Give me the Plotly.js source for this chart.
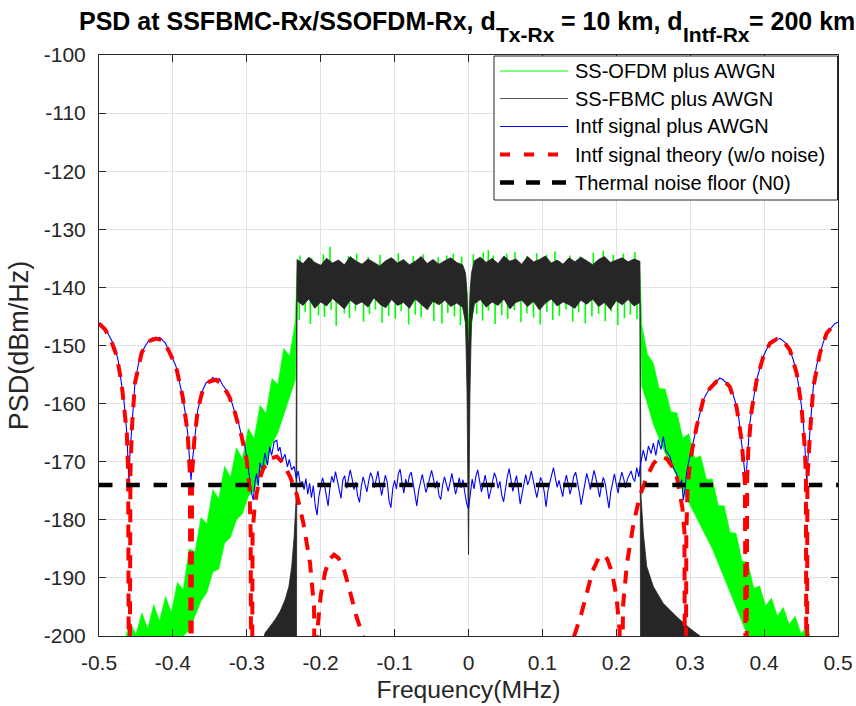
<!DOCTYPE html>
<html>
<head>
<meta charset="utf-8">
<script src="https://cdn.plot.ly/plotly-3.0.1.min.js"></script>
<style>html,body{margin:0;padding:0;background:#fff;}#chart{width:856px;height:706px;}</style>
</head>
<body>
<div id="chart"></div>
<script>
// ---------------- data ----------------
const xTickVals = [-0.5, -0.4, -0.3, -0.2, -0.1, 0, 0.1, 0.2, 0.3, 0.4, 0.5];
const xTickLabels = ['-0.5', '-0.4', '-0.3', '-0.2', '-0.1', '0', '0.1', '0.2', '0.3', '0.4', '0.5'];
const yTickVals = [-200, -190, -180, -170, -160, -150, -140, -130, -120, -110, -100];
const yTickLabels = ['-200', '-190', '-180', '-170', '-160', '-150', '-140', '-130', '-120', '-110', '-100'];

const seriesNames = ['SS-OFDM plus AWGN', 'SS-FBMC plus AWGN', 'Intf signal plus AWGN',
                     'Intf signal theory (w/o noise)', 'Thermal noise floor (N0)'];
// title pieces (subscripted pieces flagged)
const titlePieces = [
  { text: 'PSD at SSFBMC-Rx/SSOFDM-Rx, d', sub: false },
  { text: 'Tx-Rx', sub: true },
  { text: ' = 10 km, d', sub: false },
  { text: 'Intf-Rx', sub: true },
  { text: '= 200 km', sub: false }
];

// in-band frequency grid (MHz) shared by SS-OFDM and SS-FBMC envelopes
const inbandFreq = [-0.232, -0.224, -0.216, -0.208, -0.2, -0.192, -0.184, -0.176, -0.168, -0.16,
  -0.152, -0.144, -0.136, -0.128, -0.12, -0.112, -0.104, -0.096, -0.088, -0.08, -0.072, -0.064,
  -0.056, -0.048, -0.04, -0.032, -0.024, -0.016, -0.008,
  -0.004, -0.002, 0, 0.002, 0.004,
  0.008, 0.016, 0.024, 0.032, 0.04, 0.048, 0.056, 0.064, 0.072, 0.08, 0.088, 0.096, 0.104, 0.112,
  0.12, 0.128, 0.136, 0.144, 0.152, 0.16, 0.168, 0.176, 0.184, 0.192, 0.2, 0.208, 0.216, 0.224, 0.232];

// SS-FBMC (dense noisy band): upper / lower envelope in band
const fbmcUpperIn = [-135.2, -135.9, -134.8, -135.7, -136.2, -135.0, -135.8, -135.3, -136.1, -134.7,
  -135.5, -136.0, -135.1, -135.7, -136.3, -135.4, -134.9, -135.8, -135.2, -136.1, -135.5, -134.7,
  -135.9, -135.2, -136.0, -135.4, -134.9, -135.7, -136.1,
  -137.5, -141, -152, -141, -137.5,
  -135.4, -134.8, -135.7, -135.0, -135.9, -134.6, -135.5, -135.1, -136.0, -134.7, -135.6, -135.2,
  -134.6, -135.8, -135.3, -136.0, -134.9, -135.6, -134.8, -135.4, -136.1, -135.2, -134.7, -135.7,
  -135.3, -134.9, -135.6, -135.1, -135.5];
const fbmcLowerIn = [-142.3, -143.1, -142.0, -143.6, -142.5, -143.2, -141.9, -142.8, -143.7, -142.2,
  -143.0, -142.5, -143.4, -141.8, -142.9, -143.5, -142.1, -143.1, -142.6, -143.6, -142.0, -142.9,
  -143.8, -142.4, -143.0, -142.2, -143.3, -142.7, -143.4,
  -146, -158, -186, -158, -146,
  -142.8, -142.1, -143.4, -142.5, -143.1, -142.0, -143.7, -142.6, -142.2, -143.3, -142.4, -143.9,
  -142.7, -142.0, -143.2, -142.5, -143.0, -143.6, -142.2, -142.9, -142.0, -143.3, -142.6, -143.8,
  -142.3, -143.0, -142.1, -143.2, -142.6];
// SS-FBMC out-of-band skirts
const fbmcSkirtFreqL = [-0.278, -0.2754, -0.27, -0.2618, -0.255, -0.2483, -0.243, -0.2392, -0.236, -0.2335, -0.2328];
const fbmcSkirtUpperL = [-201, -199.5, -198.6, -197.2, -195.8, -193.8, -191.5, -188, -183, -177, -150];
const fbmcSkirtLowerL = [-205, -205, -205, -205, -205, -205, -205, -205, -205, -205, -205];
const fbmcSkirtFreqR = [0.2328, 0.2335, 0.2366, 0.2411, 0.2501, 0.2636, 0.2817, 0.2997, 0.3133, 0.317];
const fbmcSkirtUpperR = [-150, -176, -182.3, -188, -191.5, -194.4, -196.7, -198.7, -200, -201];
const fbmcSkirtLowerR = [-205, -205, -205, -205, -205, -205, -205, -205, -205, -205];

// SS-OFDM in band: core (mostly hidden behind SS-FBMC) incl. the centre notch
const ofdmUpperIn = [-137, -137, -137, -137, -137, -137, -137, -137, -137, -137,
  -137, -137, -137, -137, -137, -137, -137, -137, -137, -137, -137, -137,
  -137, -137, -137, -137, -137, -137, -137,
  -138, -141, -146, -141, -138,
  -137, -137, -137, -137, -137, -137, -137, -137, -137, -137, -137, -137,
  -137, -137, -137, -137, -137, -137, -137, -137, -137, -137, -137, -137,
  -137, -137, -137, -137, -137];
const ofdmLowerIn = [-141, -141, -141, -141, -141, -141, -141, -141, -141, -141,
  -141, -141, -141, -141, -141, -141, -141, -141, -141, -141, -141, -141,
  -141, -141, -141, -141, -141, -141, -141,
  -147, -151, -152.5, -151, -147,
  -141, -141, -141, -141, -141, -141, -141, -141, -141, -141, -141, -141,
  -141, -141, -141, -141, -141, -141, -141, -141, -141, -141, -141, -141,
  -141, -141, -141, -141, -141];
// SS-OFDM in-band peaks that stick out above / below the SS-FBMC band
const ofdmPeakFreq = [-0.228, -0.2122, -0.1965, -0.1874, -0.1626, -0.1513, -0.1356, -0.1198, -0.1062, -0.095,
  -0.0747, -0.0612, -0.0409, -0.0295, -0.0206, -0.0092, 0.0065, 0.02, 0.0268, 0.0336,
  0.0517, 0.0629, 0.0788, 0.0923, 0.1058, 0.117, 0.1373, 0.1509, 0.1689, 0.1824,
  0.1959, 0.2095, 0.2253];
const ofdmPeakPsd = [-134.5, -134.9, -134.3, -133.0, -134.6, -134.2, -134.8, -134.4, -134.9, -134.1,
  -134.6, -134.3, -134.8, -134.5, -134.2, -134.7, -134.3, -134.0, -133.6, -134.5,
  -134.2, -133.9, -134.6, -134.1, -134.4, -133.8, -134.5, -134.7, -134.0, -133.7,
  -134.4, -134.2, -133.9];
const ofdmDipFreq = [-0.229, -0.221, -0.214, -0.203, -0.195, -0.186, -0.179, -0.168, -0.161, -0.153,
  -0.142, -0.134, -0.126, -0.117, -0.108, -0.099, -0.091, -0.081, -0.072, -0.064,
  -0.055, -0.047, -0.036, -0.028, -0.019, -0.011,
  0.011, 0.019, 0.027, 0.036, 0.045, 0.053, 0.062, 0.071, 0.079, 0.088,
  0.097, 0.106, 0.114, 0.123, 0.132, 0.141, 0.149, 0.158, 0.167, 0.176,
  0.185, 0.193, 0.202, 0.211, 0.219, 0.228];
const ofdmDipPsd = [-145.6, -144.2, -146.3, -144.8, -145.1, -143.9, -146.6, -144.5, -145.3, -144.0,
  -145.9, -144.6, -143.8, -146.1, -144.9, -145.4, -144.1, -146.4, -144.7, -145.2,
  -143.9, -145.8, -146.2, -144.4, -145.0, -146.5,
  -144.6, -145.7, -144.0, -146.3, -144.8, -145.4, -143.9, -146.0, -144.5, -145.2,
  -146.4, -144.2, -145.6, -144.9, -143.8, -145.9, -144.3, -146.2, -145.0, -144.6,
  -145.8, -144.1, -146.5, -145.3, -144.7, -145.5];
// SS-OFDM out-of-band skirts
const ofdmSkirtFreqL = [-0.474, -0.466, -0.458, -0.45, -0.442, -0.434, -0.426, -0.418, -0.41, -0.402,
  -0.394, -0.386, -0.378, -0.37, -0.362, -0.354, -0.346, -0.338, -0.33, -0.322, -0.314, -0.306,
  -0.298, -0.29, -0.282, -0.274, -0.266, -0.258, -0.25, -0.242, -0.2345];
const ofdmSkirtUpperL = [-200.5, -201, -197.6, -199.8, -196.0, -198.8, -194.6, -197.4, -193.2, -195.9,
  -190.8, -192.0, -185.0, -185.5, -179.6, -180.7, -174.8, -176.4, -170.8, -172.7, -167.6, -169.5,
  -164.3, -166.0, -160.3, -161.7, -155.7, -156.7, -150.5, -151.8, -146.0];
const ofdmSkirtLowerL = [-206, -206, -206, -206, -205, -204, -203, -203, -202, -201.5,
  -201, -200, -199, -196.5, -194, -192.5, -189, -188.5, -184, -183, -180, -179,
  -176, -175, -172, -170.5, -167, -165, -162, -159, -156];
const ofdmSkirtFreqR = [0.2345, 0.242, 0.25, 0.258, 0.266, 0.274, 0.282, 0.29, 0.298, 0.306,
  0.314, 0.322, 0.33, 0.338, 0.346, 0.354, 0.362, 0.37, 0.378, 0.386, 0.394, 0.402,
  0.41, 0.418, 0.426, 0.434, 0.442, 0.45, 0.458, 0.466, 0.474];
const ofdmSkirtUpperR = [-146.5, -151.5, -153.0, -157.4, -157.5, -161.4, -161.6, -165.9, -165.2, -169.4,
  -169.0, -173.0, -173.0, -177.6, -177.6, -182.2, -182.3, -187.1, -187.3, -191.8, -191.4, -194.8,
  -193.5, -196.6, -195.1, -198.0, -196.6, -199.6, -198.4, -201.5, -201];
const ofdmSkirtLowerR = [-157, -160, -163.5, -166, -168.5, -170.5, -172.5, -175, -177, -179,
  -181, -183, -185, -187.5, -190, -192.5, -195, -197.5, -200, -202, -204, -205,
  -206, -206, -206, -206, -206, -206, -206, -206, -206];

// Interference signal plus AWGN (blue): outer parts
const intfFreqL = [-0.5, -0.494, -0.488, -0.483, -0.478, -0.474, -0.4694, -0.466, -0.4624, -0.461,
  -0.4595, -0.458, -0.4554, -0.4514, -0.447, -0.4424, -0.438, -0.4334, -0.428, -0.423,
  -0.418, -0.414, -0.41, -0.406, -0.401, -0.3958, -0.391, -0.3868, -0.383, -0.38,
  -0.3775, -0.3755, -0.3735, -0.371, -0.3664, -0.363, -0.3597, -0.355, -0.3507, -0.346,
  -0.3417, -0.337, -0.3327, -0.328, -0.3237, -0.32, -0.316, -0.311, -0.3069, -0.303,
  -0.3002, -0.298, -0.2957, -0.2935, -0.2912, -0.289, -0.2867, -0.2845, -0.2822, -0.279,
  -0.2754, -0.272, -0.269, -0.2664, -0.263, -0.2594, -0.2575, -0.2551, -0.252, -0.2484,
  -0.245, -0.2425, -0.2394, -0.236, -0.233, -0.2304, -0.2275, -0.225];
const intfPsdL = [-146.1, -147.0, -147.9, -149.1, -150.6, -152.6, -156.5, -159.8, -165.0, -168.5,
  -173.5, -168.5, -164.0, -156.5, -153.4, -151.3, -150.2, -149.3, -148.7, -148.8,
  -148.6, -149.1, -149.6, -150.8, -152.0, -153.6, -156.2, -158.8, -161.8, -165.1,
  -169.5, -173.2, -169.8, -166.3, -161.1, -159.4, -157.7, -156.4, -156.2, -155.5,
  -155.9, -155.7, -156.8, -157.6, -158.8, -159.9, -161.6, -163.4, -165.7, -167.0,
  -169.1, -171.2, -173.2, -175.4, -176.6, -173.5, -172.0, -174.2, -170.2, -171.5,
  -168.5, -170.6, -167.4, -168.9, -166.6, -166.3, -168.2, -167.5, -169.8, -168.7,
  -170.9, -169.6, -171.4, -170.8, -172.9, -171.6, -174.0, -173.4];
// centre part: uniform bins starting at -0.225 MHz, spacing 0.0025 MHz
const intfCentreStart = -0.225;
const intfCentreStep = 0.0025;
const intfPsdC = [
  -173.4, -174.8, -172.9, -175.6, -173.7, -176.2, -174.1, -177.4, -179.2, -176.0,
  -174.3, -172.8, -173.9, -175.7, -177.6, -174.4, -172.5, -173.6, -171.7, -173.2,
  -174.9, -176.3, -173.1, -172.4, -174.6, -173.0, -171.4, -172.9, -174.8, -173.5,
  -175.9, -177.0, -174.2, -172.6, -173.8, -175.2, -173.3, -171.9, -172.7, -174.5,
  -173.1, -171.6, -173.9, -175.8, -174.0, -172.3, -173.5, -176.7, -177.9, -174.6,
  -173.2, -174.7, -172.1, -171.3, -173.6, -175.4, -173.0, -174.2, -172.4, -171.8,
  -173.7, -175.9, -177.6, -175.0, -173.4, -172.2, -173.8, -175.3, -174.1, -172.7,
  -171.5, -172.9, -174.6, -173.3, -175.8, -176.5, -174.0, -172.6, -173.9, -175.1,
  -173.6, -172.0, -173.8, -175.6, -174.3, -172.8, -174.5, -173.1, -175.3, -177.2,
  -178.1, -175.4, -173.0, -174.7, -172.5, -171.4, -173.6, -175.2, -174.0, -172.3,
  -173.9, -176.4, -175.0, -173.2, -171.9, -172.8, -174.6, -173.4, -175.7, -176.9,
  -174.4, -172.6, -171.2, -173.5, -175.1, -173.7, -172.4, -174.8, -177.3, -175.5,
  -173.8, -172.2, -174.0, -173.1, -171.6, -172.9, -174.7, -176.2, -174.3, -172.7,
  -173.5, -175.2, -177.8, -175.0, -173.6, -172.1, -171.0, -172.8, -174.4, -173.2,
  -174.9, -176.0, -173.7, -172.3, -173.9, -175.6, -174.2, -172.5, -171.8, -173.4,
  -175.3, -177.4, -175.8, -173.6, -172.0, -173.3, -174.8, -173.0, -171.5, -172.9,
  -174.6, -176.1, -174.0, -172.7, -173.8, -175.9, -178.0, -175.2, -173.5, -172.1,
  -173.9, -175.4, -173.2, -171.8, -172.9, -174.5, -173.0, -172.2, -171.6, -172.8,
  -173.4];
const intfFreqR = [0.225, 0.2276, 0.2305, 0.233, 0.2366, 0.24, 0.2435, 0.247, 0.2501, 0.2535,
  0.257, 0.2605, 0.2636, 0.267, 0.2726, 0.276, 0.2816, 0.285, 0.2885, 0.2906,
  0.293, 0.2951, 0.2975, 0.2996, 0.3042, 0.3075, 0.311, 0.3145, 0.3177, 0.322,
  0.3267, 0.331, 0.3357, 0.34, 0.3447, 0.349, 0.3537, 0.358, 0.3627, 0.366,
  0.3695, 0.372, 0.3752, 0.3775, 0.3805, 0.3831, 0.3865, 0.39, 0.3945, 0.399,
  0.4035, 0.408, 0.4125, 0.417, 0.4215, 0.426, 0.4305, 0.435, 0.4395, 0.444,
  0.4475, 0.4506, 0.4535, 0.4555, 0.4578, 0.46, 0.4621, 0.4645, 0.4666, 0.471,
  0.4756, 0.48, 0.4846, 0.49, 0.4959, 0.5];
const intfPsdR = [-173.4, -171.0, -172.6, -170.2, -168.0, -169.9, -167.3, -168.6, -166.8, -168.9,
  -166.2, -167.9, -165.7, -168.1, -169.1, -170.8, -172.0, -174.5, -173.1, -176.6,
  -174.8, -172.0, -170.3, -169.1, -166.3, -164.6, -162.8, -161.0, -159.4, -158.3,
  -157.4, -156.5, -156.2, -155.6, -155.9, -156.4, -157.1, -158.4, -160.5, -162.7,
  -166.3, -169.6, -173.5, -168.4, -163.6, -161.1, -158.2, -155.9, -153.7, -151.9,
  -150.6, -149.6, -149.1, -148.9, -148.8, -149.2, -149.8, -150.8, -152.5, -154.8,
  -157.4, -160.5, -164.0, -168.0, -173.5, -168.2, -165.1, -160.6, -157.1, -153.4,
  -151.3, -149.5, -147.9, -147.0, -146.2, -146.0];

// Interference signal theory (red dashed); null = gap (curve below the axis)
const theoryFreq = [-0.5, -0.492, -0.484, -0.476, -0.4694, -0.4655, -0.4624, -0.4605, -0.459, -0.4575,
  -0.4554, -0.4514, -0.4424, -0.4334, -0.423, -0.414, -0.406, -0.3958, -0.3868, -0.38,
  -0.377, -0.3755, -0.374, -0.371, -0.3664, -0.3597, -0.3507, -0.3417, -0.3327, -0.3237,
  -0.316, -0.3069, -0.3002, -0.2965, -0.2948, -0.2935, -0.2922, -0.2895, -0.2867, -0.2822,
  -0.2777, -0.2684, -0.2594, -0.2504, -0.2414, -0.232, -0.2234, -0.2144, -0.209, -0.2065,
  -0.2045, -0.2, -0.194, -0.188, -0.182, -0.176, -0.168, -0.16, -0.152, -0.143, -0.136,
  0,
  0.136, 0.143, 0.152, 0.16, 0.168, 0.176, 0.182, 0.188, 0.194, 0.2,
  0.2045, 0.2065, 0.209, 0.2144, 0.2234, 0.232, 0.2414, 0.2504, 0.2594, 0.2684,
  0.2777, 0.2822, 0.2867, 0.2895, 0.2922, 0.2935, 0.2948, 0.2965, 0.3002, 0.3086,
  0.3176, 0.3266, 0.3356, 0.3446, 0.3536, 0.3626, 0.3696, 0.3741, 0.3756, 0.3771,
  0.3786, 0.3832, 0.39, 0.399, 0.408, 0.417, 0.426, 0.435, 0.4441, 0.4506,
  0.4553, 0.4566, 0.4576, 0.4586, 0.4621, 0.4666, 0.4756, 0.4846, 0.4925, 0.5];
const theoryPsd = [-146.2, -147.2, -149.0, -151.8, -156.5, -160.5, -165.0, -172.0, -240, -172.0,
  -164.0, -156.5, -151.3, -149.3, -148.8, -149.1, -150.8, -153.6, -158.8, -165.1,
  -172.0, -240, -172.0, -166.3, -161.1, -157.7, -156.2, -155.9, -156.8, -158.8,
  -161.6, -165.7, -169.6, -174.5, -182.0, -240, -182.0, -178.0, -175.5, -172.8,
  -171.2, -169.5, -169.1, -170.3, -172.6, -175.8, -180.6, -187.5, -195.0, -240,
  -199.0, -193.0, -189.0, -186.8, -186.0, -186.6, -188.8, -192.5, -196.5, -200.0, -204.0,
  null,
  -204.0, -200.0, -196.5, -192.5, -188.8, -186.6, -186.0, -186.8, -189.0, -193.0,
  -199.0, -240, -195.0, -187.5, -180.6, -175.8, -172.6, -170.3, -169.1, -169.5,
  -171.2, -172.8, -175.5, -178.0, -182.0, -240, -182.0, -174.5, -169.6, -164.0,
  -159.4, -157.4, -156.2, -155.9, -157.1, -160.5, -166.3, -173.7, -240, -173.0,
  -168.0, -161.1, -155.9, -151.9, -149.6, -148.9, -149.2, -150.8, -154.8, -160.5,
  -168.0, -173.0, -240, -173.0, -165.1, -157.1, -151.3, -147.9, -146.7, -146.1];

// Thermal noise floor N0
const noiseFreq = [-0.5, 0.5];
const noisePsd = [-174, -174];

// ---------------- build the traces ----------------
function band(xs, up, lo) {
  return { x: xs.concat(xs.slice().reverse()), y: up.concat(lo.slice().reverse()) };
}
function stems(freqs, tips, base) {   // vertical spikes from a base level to each read value
  const x = [], y = [];
  freqs.forEach((f, i) => { x.push(f, f, null); y.push(base, tips[i], null); });
  return { x: x, y: y };
}
const ofdmBand = band(ofdmSkirtFreqL.concat(inbandFreq, ofdmSkirtFreqR),
                      ofdmSkirtUpperL.concat(ofdmUpperIn, ofdmSkirtUpperR),
                      ofdmSkirtLowerL.concat(ofdmLowerIn, ofdmSkirtLowerR));
const ofdmPeaks = stems(ofdmPeakFreq, ofdmPeakPsd, -136.5);
const ofdmDips = stems(ofdmDipFreq, ofdmDipPsd, -141.5);
const fbmcBand = band(fbmcSkirtFreqL.concat(inbandFreq, fbmcSkirtFreqR),
                      fbmcSkirtUpperL.concat(fbmcUpperIn, fbmcSkirtUpperR),
                      fbmcSkirtLowerL.concat(fbmcLowerIn, fbmcSkirtLowerR));

const GREEN = '#00ff00', DARK = '#262626', BLUE = '#0000ff', RED = '#ff0000', BLACK = '#000000';
const FONT = 'Liberation Sans, Arial, Helvetica, sans-serif';
const RED_DASH = '13px,10px';
const BLACK_DASH = '13.5px,13.8px';

const traces = [
  { name: seriesNames[0], x: ofdmBand.x, y: ofdmBand.y, type: 'scatter', mode: 'lines',
    fill: 'toself', fillcolor: GREEN, line: { color: GREEN, width: 0.6 }, hoverinfo: 'skip', showlegend: false },
  { name: seriesNames[0], x: ofdmPeaks.x.concat(ofdmDips.x), y: ofdmPeaks.y.concat(ofdmDips.y),
    type: 'scatter', mode: 'lines', connectgaps: false, line: { color: GREEN, width: 1.6 }, hoverinfo: 'skip', showlegend: false },
  { name: seriesNames[1], x: fbmcBand.x, y: fbmcBand.y, type: 'scatter', mode: 'lines',
    fill: 'toself', fillcolor: DARK, line: { color: DARK, width: 0.8 }, hoverinfo: 'skip', showlegend: false },
  { name: seriesNames[2], x: intfFreqL, y: intfPsdL,
    type: 'scatter', mode: 'lines', line: { color: BLUE, width: 1.1 }, showlegend: false },
  { name: seriesNames[2], x0: intfCentreStart, dx: intfCentreStep, y: intfPsdC,
    type: 'scatter', mode: 'lines', line: { color: BLUE, width: 1.1 }, showlegend: false },
  { name: seriesNames[2], x: intfFreqR, y: intfPsdR,
    type: 'scatter', mode: 'lines', line: { color: BLUE, width: 1.1 }, showlegend: false },
  { name: seriesNames[3], x: theoryFreq, y: theoryPsd, type: 'scatter', mode: 'lines', connectgaps: false,
    line: { color: RED, width: 4, dash: RED_DASH }, showlegend: false },
  { name: seriesNames[4], x: noiseFreq, y: noisePsd, type: 'scatter', mode: 'lines',
    line: { color: BLACK, width: 4.5, dash: BLACK_DASH }, showlegend: false }
];

// ---------------- layout ----------------
const PL = 99, PR = 838, PT = 55, PB = 636;
const px2x = p => (p - PL) / (PR - PL);
const px2y = p => (PB - p) / (PB - PT);

const legendRows = [71, 98.5, 126.5, 154.5, 182.5];
const legendStyles = [
  { color: GREEN, width: 1.2, dash: 'solid' },
  { color: '#555555', width: 1.2, dash: 'solid' },
  { color: BLUE, width: 1.2, dash: 'solid' },
  { color: RED, width: 4, dash: '10px,14px' },
  { color: BLACK, width: 4.5, dash: '14px,12px' }
];
const shapes = [
  { type: 'rect', xref: 'paper', yref: 'paper', x0: px2x(494), x1: px2x(837.5), y0: px2y(200), y1: px2y(56),
    line: { color: DARK, width: 1 }, fillcolor: '#ffffff', layer: 'above' }
];
const annotations = [];
legendRows.forEach((py, i) => {
  shapes.push({ type: 'line', xref: 'paper', yref: 'paper', x0: px2x(500), x1: px2x(568), y0: px2y(py), y1: px2y(py),
    line: legendStyles[i], layer: 'above' });
  annotations.push({ xref: 'paper', yref: 'paper', x: px2x(573), y: px2y(py), xanchor: 'left', yanchor: 'middle',
    text: seriesNames[i], showarrow: false, font: { family: FONT, size: 20, color: BLACK } });
});

// title: laid out piece by piece so the subscripts sit lower, like the reference
const TITLE_MAIN = 25, TITLE_SUB = 21, TITLE_LEFT = 78, TITLE_Y = 21, TITLE_SUB_Y = 34;
const ctx = document.createElement('canvas').getContext('2d');
let cursor = TITLE_LEFT;
titlePieces.forEach(p => {
  const size = p.sub ? TITLE_SUB : TITLE_MAIN;
  ctx.font = 'bold ' + size + 'px "Liberation Sans", Arial, sans-serif';
  const full = ctx.measureText(p.text).width;
  const trimmed = p.text.replace(/^\s+/, '');
  const lead = full - ctx.measureText(trimmed).width;
  annotations.push({ xref: 'paper', yref: 'paper', x: px2x(cursor + lead), y: px2y(p.sub ? TITLE_SUB_Y : TITLE_Y),
    xanchor: 'left', yanchor: 'middle', showarrow: false, text: trimmed.replace(/\s+$/, ''),
    borderpad: 0, font: { family: FONT, size: size, color: BLACK, weight: 'bold' } });
  cursor += full;
});

const axisCommon = {
  showgrid: true, gridcolor: '#e2e2e2', gridwidth: 1, zeroline: false,
  showline: true, linecolor: DARK, linewidth: 1, mirror: 'ticks',
  ticks: 'inside', ticklen: 7, tickwidth: 1, tickcolor: DARK,
  tickfont: { family: FONT, size: 21, color: DARK }, tickmode: 'array'
};

const layout = {
  width: 856, height: 706,
  margin: { l: PL, r: 856 - PR, t: PT, b: 706 - PB },
  paper_bgcolor: '#ffffff', plot_bgcolor: '#ffffff',
  showlegend: false,
  xaxis: Object.assign({}, axisCommon, {
    range: [-0.5, 0.5], tickvals: xTickVals, ticktext: xTickLabels, ticklabelstandoff: 8,
    title: { text: 'Frequency(MHz)', font: { family: FONT, size: 24.7, color: DARK }, standoff: 7 }
  }),
  yaxis: Object.assign({}, axisCommon, {
    range: [-200, -100], tickvals: yTickVals, ticktext: yTickLabels, ticklabelstandoff: 8,
    title: { text: 'PSD(dBm/Hz)', font: { family: FONT, size: 27, color: DARK }, standoff: 7 }
  }),
  shapes: shapes,
  annotations: annotations
};

Plotly.newPlot('chart', traces, layout, { displayModeBar: false, staticPlot: true });
</script>
</body>
</html>
